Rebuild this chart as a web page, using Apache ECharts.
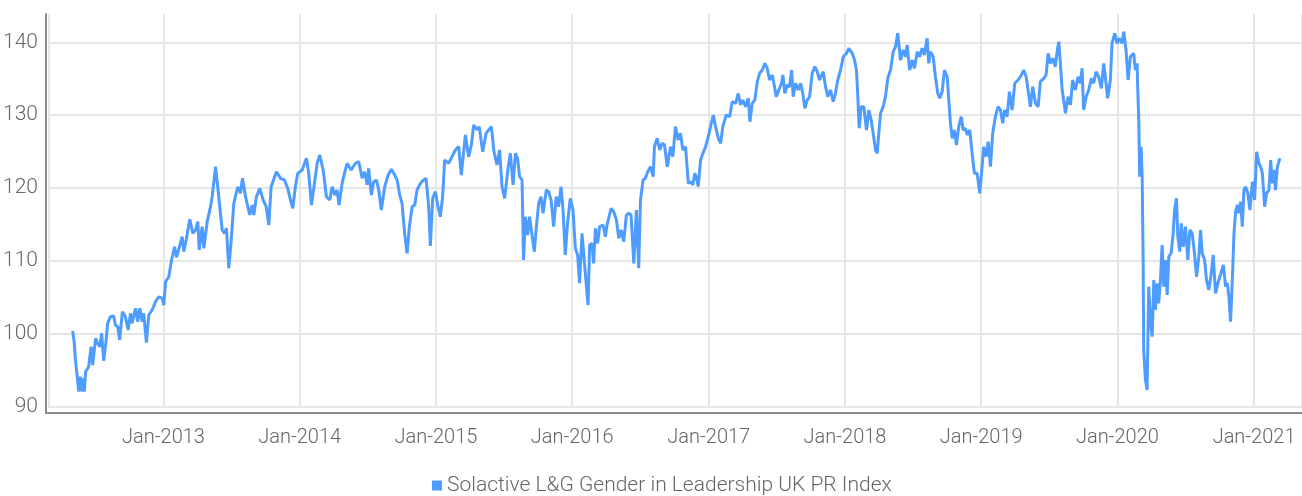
<!DOCTYPE html>
<html>
<head>
<meta charset="utf-8">
<script src="https://cdn.jsdelivr.net/npm/echarts@6/dist/echarts.min.js"></script>
<style>
html,body{margin:0;padding:0;background:#ffffff;}
#chart{width:1302px;height:496px;}
</style>
</head>
<body>
<div id="chart"></div>
<script>
// ---- DATA ----
const seriesName = 'Solactive L&G Gender in Leadership UK PR Index';
const yAxisMin = 90;
const yAxisMax = 140;
const yAxisStep = 10;
const xAxisStartYear = 2012.1617;
const xAxisEndYear = 2021.352;

// dates as decimal years
const dateYears = [
2012.335,2012.347,2012.354,2012.371,2012.379,2012.391,2012.404,2012.411,2012.420,2012.430,
2012.452,2012.470,2012.481,2012.503,2012.518,2012.533,2012.547,2012.562,2012.580,2012.591,
2012.611,2012.635,2012.648,2012.665,2012.679,2012.699,2012.721,2012.741,2012.758,2012.770,
2012.795,2012.811,2012.826,2012.844,2012.855,2012.875,2012.892,2012.917,2012.941,2012.966,
2012.990,2013.002,2013.015,2013.039,2013.059,2013.081,2013.095,2013.117,2013.137,2013.149,
2013.169,2013.193,2013.215,2013.235,2013.252,2013.262,2013.284,2013.296,2013.321,2013.345,
2013.357,2013.382,2013.398,2013.413,2013.431,2013.448,2013.462,2013.479,2013.497,2013.516,
2013.545,2013.565,2013.580,2013.602,2013.633,2013.651,2013.663,2013.682,2013.707,2013.731,
2013.754,2013.773,2013.790,2013.829,2013.858,2013.888,2013.912,2013.932,2013.949,2013.968,
2013.985,2014.018,2014.049,2014.066,2014.086,2014.103,2014.128,2014.147,2014.172,2014.196,
2014.220,2014.238,2014.257,2014.274,2014.289,2014.311,2014.328,2014.348,2014.377,2014.409,
2014.433,2014.458,2014.477,2014.495,2014.506,2014.526,2014.543,2014.563,2014.580,2014.599,
2014.624,2014.649,2014.673,2014.697,2014.715,2014.734,2014.751,2014.770,2014.788,2014.805,
2014.825,2014.844,2014.861,2014.886,2014.910,2014.927,2014.946,2014.959,2014.976,2014.996,
2015.015,2015.032,2015.049,2015.064,2015.093,2015.118,2015.142,2015.167,2015.186,2015.216,
2015.240,2015.260,2015.277,2015.302,2015.318,2015.343,2015.368,2015.387,2015.407,2015.426,
2015.448,2015.467,2015.485,2015.504,2015.529,2015.546,
2015.566,2015.583,2015.599,2015.614,2015.632,2015.643,2015.656,2015.673,2015.687,2015.705,
2015.722,2015.737,2015.754,2015.771,2015.786,2015.810,2015.827,2015.845,2015.864,2015.883,
2015.900,2015.918,2015.933,2015.949,2015.966,2015.986,2016.006,2016.023,2016.040,2016.054,
2016.072,2016.089,2016.116,2016.128,2016.145,2016.157,2016.170,2016.186,2016.201,2016.226,
2016.243,2016.255,2016.285,2016.304,2016.324,2016.341,2016.358,2016.377,2016.397,2016.414,
2016.431,2016.451,2016.470,2016.487,2016.500,2016.519,2016.536,2016.553,2016.573,2016.593,
2016.602,2016.622,2016.641,2016.659,2016.676,2016.696,
2016.720,2016.737,2016.756,2016.776,2016.793,2016.810,2016.830,2016.850,2016.867,2016.883,
2016.898,2016.908,2016.923,2016.940,2016.957,2016.977,2016.996,2017.013,2017.033,2017.050,
2017.070,2017.087,2017.103,2017.128,2017.153,2017.172,2017.197,2017.216,2017.233,2017.250,
2017.270,2017.290,2017.302,2017.319,2017.338,2017.356,2017.373,2017.393,2017.412,2017.429,
2017.446,2017.466,2017.478,2017.495,2017.514,2017.534,2017.544,2017.558,2017.576,2017.593,
2017.608,2017.620,2017.637,2017.657,2017.674,2017.690,2017.705,2017.723,2017.740,2017.759,
2017.779,2017.796,2017.813,
2017.840,2017.857,2017.874,2017.894,2017.913,2017.930,2017.947,2017.967,2017.987,2018.011,
2018.028,2018.053,2018.070,2018.084,2018.094,2018.104,2018.119,2018.138,2018.158,2018.175,
2018.192,2018.207,2018.224,2018.236,2018.248,2018.261,2018.280,2018.297,2018.314,2018.334,
2018.354,2018.371,2018.387,2018.407,2018.427,2018.444,2018.456,2018.475,2018.493,2018.510,
2018.530,2018.549,2018.566,2018.583,2018.603,2018.615,2018.627,2018.647,2018.664,2018.681,
2018.696,2018.713,2018.730,2018.750,2018.762,2018.774,2018.787,2018.803,2018.818,2018.835,
2018.853,2018.867,2018.884,2018.897,2018.916,2018.933,2018.950,2018.970,2018.989,
2019.001,2019.018,2019.036,2019.051,2019.068,2019.084,2019.104,2019.124,2019.141,2019.158,
2019.172,2019.190,2019.207,2019.227,2019.246,2019.271,2019.295,2019.312,2019.330,2019.349,
2019.361,2019.378,2019.398,2019.418,2019.434,2019.459,2019.476,2019.491,2019.508,2019.525,
2019.544,2019.557,2019.569,2019.581,2019.594,2019.605,2019.618,2019.638,2019.655,2019.671,
2019.691,2019.711,2019.728,2019.740,2019.752,2019.770,2019.789,2019.809,2019.825,2019.843,
2019.862,2019.882,2019.899,2019.911,2019.928,2019.948,2019.960,2019.980,2019.997,2020.014,
2020.034,2020.046,2020.063,2020.078,2020.095,
2020.119,2020.131,2020.144,2020.148,2020.156,2020.163,2020.173,2020.181,2020.188,2020.192,
2020.205,2020.217,2020.229,2020.241,2020.254,2020.266,2020.278,2020.291,2020.302,2020.315,
2020.327,2020.339,2020.352,2020.364,2020.376,2020.393,2020.408,2020.418,2020.432,2020.442,
2020.456,2020.467,2020.481,2020.498,2020.515,2020.530,2020.547,2020.564,2020.579,2020.596,
2020.608,2020.621,2020.638,2020.652,2020.669,2020.687,2020.701,2020.718,2020.735,2020.750,
2020.775,2020.792,2020.804,2020.816,2020.828,2020.841,2020.853,2020.865,2020.878,2020.889,
2020.902,2020.914,2020.926,2020.938,2020.955,2020.970,2020.988,2021.004,2021.019,2021.036,
2021.048,2021.061,2021.078,2021.092,2021.109,2021.122,2021.134,2021.146,2021.158,2021.171,
2021.190
];

const indexValues = [
100.34,98.65,96.59,93.61,92.01,94.07,92.01,93.85,92.01,94.75,
95.44,98.19,95.67,99.34,98.65,98.19,100.03,96.26,99.11,101.40,
102.31,102.40,101.17,100.93,99.11,102.99,102.31,100.48,102.77,101.40,
103.46,101.62,103.46,101.62,102.77,98.74,102.54,103.23,104.37,105.05,
104.83,103.91,107.11,107.80,110.10,111.92,110.47,111.92,113.30,111.24,
113.08,115.69,113.76,114.22,115.36,111.47,114.67,111.70,115.36,117.42,
118.79,122.91,120.16,117.42,114.22,113.76,114.45,108.96,112.84,117.88,
120.16,119.26,121.32,118.79,116.28,117.65,116.28,118.79,119.94,118.34,
117.42,114.90,120.16,122.23,121.32,121.09,119.94,118.34,117.20,120.16,
122.00,122.46,124.07,122.00,117.65,119.94,123.38,124.52,122.46,118.79,
118.34,120.16,119.02,119.71,117.65,120.63,122.00,123.38,122.46,123.38,
123.60,121.32,122.23,120.40,122.69,119.02,120.85,121.09,119.71,116.96,
120.16,121.77,122.55,121.77,121.09,119.02,117.88,113.76,111.02,114.67,
117.42,117.65,119.71,120.63,121.09,121.32,117.65,112.02,118.57,119.48,
117.42,116.04,118.79,123.83,123.38,124.29,125.21,125.66,121.77,127.27,
124.29,125.89,128.64,127.95,128.41,124.97,127.50,127.95,128.41,124.97,
123.15,125.21,120.16,118.57,122.69,124.75,
120.40,124.75,124.07,121.54,121.09,110.10,116.04,113.53,116.04,113.53,
111.24,114.67,117.88,118.79,116.51,119.71,119.48,118.34,114.67,118.79,
117.42,120.16,116.96,110.78,115.14,118.57,116.96,111.70,110.78,106.90,
113.76,109.86,103.91,112.16,112.39,109.64,114.45,112.39,114.67,114.90,
113.30,114.90,117.20,116.73,115.59,113.08,114.22,112.61,116.28,116.51,
116.28,109.64,116.96,108.96,118.34,121.09,121.32,122.23,122.91,121.54,
125.66,126.81,125.21,126.13,125.89,122.91,
125.66,124.29,128.41,126.58,127.50,125.21,125.66,120.63,120.85,120.40,
122.00,121.54,120.16,123.83,124.75,125.66,127.03,128.41,130.01,128.41,
126.81,126.13,128.41,130.01,129.78,131.84,131.62,132.99,131.39,132.07,
131.15,132.31,129.09,131.62,132.07,134.59,135.74,136.19,137.11,136.43,
134.82,135.51,134.37,132.53,133.45,134.37,135.51,132.99,134.13,133.90,
136.19,132.53,134.37,133.45,134.37,132.99,130.93,132.07,132.53,135.74,
136.65,135.96,134.82,
135.96,133.90,132.53,133.45,131.84,132.99,134.82,136.19,138.02,138.49,
139.18,138.49,137.57,136.19,132.53,128.19,131.15,131.15,127.95,130.70,
129.33,127.50,125.21,124.75,127.50,130.25,131.15,132.53,135.05,136.19,
138.71,139.40,141.24,137.57,138.94,138.02,139.63,136.19,137.57,136.43,
138.71,138.02,139.18,138.26,140.55,137.11,138.71,138.02,135.27,132.99,
132.31,133.21,136.19,135.27,132.07,128.87,126.81,127.95,125.89,128.41,
129.78,127.95,128.19,127.27,127.95,124.75,122.00,122.00,119.26,
121.77,125.66,124.29,126.35,122.91,127.50,129.78,131.15,130.70,128.87,
130.70,129.78,133.21,130.70,134.37,134.82,135.51,136.19,135.27,132.76,
131.15,133.90,131.62,131.15,134.59,135.05,135.51,138.49,137.11,137.80,
136.65,138.71,140.08,137.11,133.45,132.07,130.25,132.53,131.39,134.82,
133.45,135.27,134.37,136.43,130.70,132.53,133.45,135.05,134.37,135.96,
135.27,133.68,137.11,135.27,132.31,134.82,139.86,141.24,139.86,140.55,
139.86,141.46,138.94,134.82,138.02,
138.49,136.19,137.11,133.90,129.33,121.54,125.66,121.54,110.10,97.73,
93.61,92.24,106.43,101.85,99.56,107.35,103.23,106.90,104.15,107.35,
112.16,106.43,110.10,105.29,110.55,111.02,113.76,116.96,118.57,113.30,
111.24,115.14,111.92,114.67,110.10,114.22,113.76,111.02,107.80,110.55,
114.22,111.02,110.10,107.35,105.98,108.27,110.78,105.52,106.90,107.80,
109.41,106.43,106.90,105.05,101.62,107.35,113.76,116.73,117.65,116.51,
118.10,114.67,119.71,120.16,119.26,116.96,120.85,118.34,124.97,123.38,
122.91,122.00,117.42,119.26,119.71,123.83,120.63,122.46,119.71,122.91,
124.07
];

// ---- helpers ----
function yearToTime(y) {
  const Y = Math.floor(y);
  const a = Date.UTC(Y, 0, 1), b = Date.UTC(Y + 1, 0, 1);
  return a + (y - Y) * (b - a);
}
const seriesData = dateYears.map((y, i) => [yearToTime(y), indexValues[i]]);
const xMin = yearToTime(xAxisStartYear);
const xMax = yearToTime(xAxisEndYear);
const YEAR_MS = 365.25 * 24 * 3600 * 1000;

const FONT = 'Roboto';
const TEXT_COLOR = '#666666';
const GRID_COLOR = '#e6e6e6';
const LINE_COLOR = '#4e9cff';

const chart = echarts.init(document.getElementById('chart'), null, { renderer: 'canvas' });
chart.setOption({
  animation: false,
  useUTC: true,
  backgroundColor: '#ffffff',
  textStyle: { fontFamily: FONT },
  grid: [
    { left: 49, right: 0, top: 42.3, bottom: 89.7 },
    { left: 49, right: 0, top: 14, bottom: 88 },
    { left: 46, right: 0, top: 14, bottom: 83 }
  ],
  xAxis: [
    { type: 'time', gridIndex: 0, min: xMin, max: xMax, show: false },
    {
      type: 'time', gridIndex: 1, min: xMin, max: xMax,
      minInterval: YEAR_MS * 0.99, maxInterval: YEAR_MS * 1.01,
      axisLine: { show: false }, axisTick: { show: false },
      splitLine: { show: true, lineStyle: { color: GRID_COLOR, width: 2 } },
      axisLabel: {
        show: true, color: TEXT_COLOR, fontSize: 20, fontWeight: 300, fontFamily: FONT, margin: 20,
        showMinLabel: false, showMaxLabel: false,
        formatter: function (v) {
          const d = new Date(v);
          return 'Jan-' + d.getUTCFullYear();
        }
      }
    },
    {
      type: 'value', gridIndex: 2, min: 0, max: 1,
      axisLine: { show: true, onZero: false, lineStyle: { color: '#8c8c8c', width: 2 } },
      axisTick: { show: false }, axisLabel: { show: false }, splitLine: { show: false }
    }
  ],
  yAxis: [
    {
      type: 'value', gridIndex: 0, min: yAxisMin, max: yAxisMax, interval: yAxisStep,
      axisLine: { show: false }, axisTick: { show: false },
      splitLine: { show: true, lineStyle: { color: GRID_COLOR, width: 2 } },
      axisLabel: { color: TEXT_COLOR, fontSize: 21, fontWeight: 300, fontFamily: FONT, margin: 11 }
    },
    { type: 'value', gridIndex: 1, min: 0, max: 1, show: false },
    {
      type: 'value', gridIndex: 2, min: 0, max: 1,
      axisLine: { show: true, onZero: false, lineStyle: { color: '#8c8c8c', width: 2 } },
      axisTick: { show: false }, axisLabel: { show: false }, splitLine: { show: false }
    }
  ],
  legend: {
    show: true, left: 427, top: 470,
    icon: 'rect', itemWidth: 10, itemHeight: 10,
    textStyle: { color: TEXT_COLOR, fontSize: 21, fontWeight: 300, fontFamily: FONT },
    data: [seriesName]
  },
  series: [
    {
      name: seriesName, type: 'line', xAxisIndex: 0, yAxisIndex: 0,
      data: seriesData, showSymbol: false, symbol: 'none',
      lineStyle: { color: LINE_COLOR, width: 3 },
      itemStyle: { color: LINE_COLOR },
      clip: false
    }
  ]
});
</script>
</body>
</html>
